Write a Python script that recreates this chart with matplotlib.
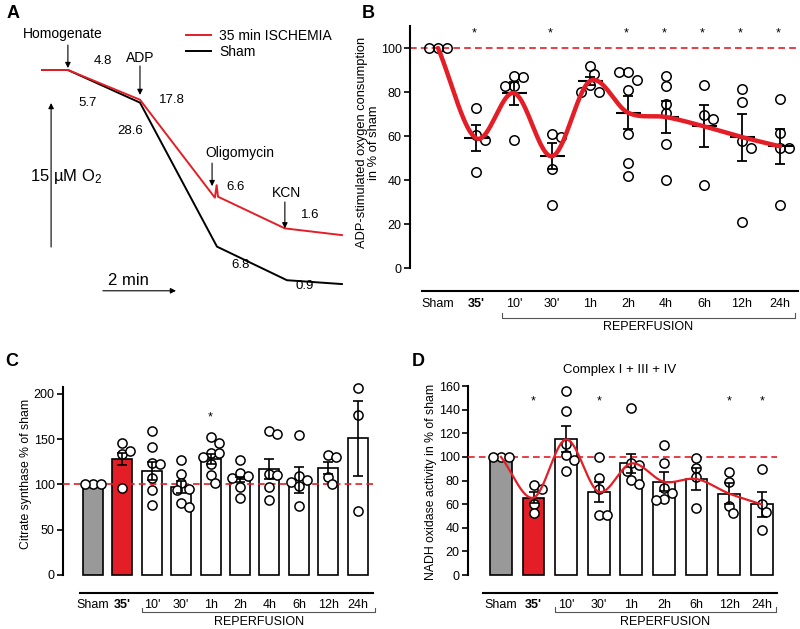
import numpy as np
import matplotlib
matplotlib.use('Agg')
import matplotlib.pyplot as plt

plt.rcParams['font.family'] = ['Liberation Sans', 'DejaVu Sans']
plt.rcParams['mathtext.fontset'] = 'custom'
plt.rcParams['mathtext.rm'] = 'Liberation Sans'
plt.rcParams['mathtext.it'] = 'Liberation Sans:italic'

RED = '#e41e26'

# ---- panel A: oxygen traces (time in min, O2 change in uM)
sham_t = [0, 0.74, 2.8, 5.0, 7.0, 8.57]
sham_o2 = [0, 0, -3.4, -18.4, -21.9, -22.3]
isch_t = [0, 0.74, 2.8, 4.94, 4.99, 5.03, 6.94, 8.57]
isch_o2 = [0, 0, -3.1, -13.3, -12.0, -13.2, -16.5, -17.2]

# ---- panel B: ADP-stimulated O2 consumption
b_labels = ['Sham', "35'", "10'", "30'", '1h', '2h', '4h', '6h', '12h', '24h']
b_mean = [100, 59, 79.5, 50.8, 85, 70.6, 68.6, 64.4, 59.5, 55.3]
b_sem = [0, 6, 5.2, 6, 2, 7.5, 7.2, 9.5, 10.7, 8]
b_points = [[100, 100, 100],
            [72.7, 60.6, 58.3, 43.6],
            [87.4, 86.7, 82.9, 82.9, 58.3],
            [61, 59.5, 45, 28.5],
            [92, 88, 83, 80, 80],
            [89, 85.6, 89, 80.8, 61, 47.7, 42],
            [87.4, 82.6, 74.7, 70.5, 56.5, 39.8],
            [83, 69.7, 67.7, 37.6],
            [81.4, 75.5, 57.7, 54.5, 21],
            [77, 61.4, 54.4, 54.4, 28.5]]
b_stars = [1, 3, 5, 6, 7, 8, 9]

# ---- panel C: citrate synthase
c_labels = ['Sham', "35'", "10'", "30'", '1h', '2h', '4h', '6h', '12h', '24h']
c_mean = [100, 127.8, 115.3, 97.6, 128.5, 105.7, 116.8, 105, 117.9, 151]
c_sem = [0, 6.5, 10, 6.5, 5.5, 3, 11, 14, 6.5, 41.5]
c_points = [[100, 100, 100],
            [146, 134, 137, 96],
            [159, 141, 124, 122.6, 107, 94, 77],
            [127, 112, 102, 94.7, 94, 79, 75.5],
            [152, 146, 135, 134.4, 130.8, 122.7, 110.5, 102],
            [127, 113, 109.8, 107, 97, 84.7],
            [159, 155.8, 111.6, 111, 97.6, 82.9],
            [154.7, 109.4, 105, 103, 98.3, 76.6],
            [132.6, 130.8, 108.7, 100.2],
            [207, 176.8, 71]]
c_stars = [4]

# ---- panel D: NADH oxidase (complex I + III + IV)
d_labels = ['Sham', "35'", "10'", "30'", '1h', '2h', '6h', '12h', '24h']
d_mean = [100, 65.5, 114.8, 70.5, 94.5, 79, 81.3, 69, 59.8]
d_sem = [0, 4.5, 11, 8.5, 7.8, 8, 9.2, 8.5, 10.5]
d_points = [[100, 100, 100],
            [76.2, 72.8, 60, 52.2],
            [155.8, 138.8, 110.9, 101.3, 97.3, 88],
            [99.6, 82.4, 72.8, 50.8, 50.8],
            [141, 94.5, 93, 88.3, 80.4, 76.7],
            [110, 94.5, 73.4, 69.7, 64, 63.5],
            [98.8, 90.9, 83.2, 56.4],
            [87.5, 79, 58.7, 52.2],
            [89.4, 60, 53.6, 38]]
d_stars = [1, 3, 7, 8]


def smooth(xs, ys, n=40):
    # Catmull-Rom curve through the means
    x = np.asarray(xs, float)
    y = np.asarray(ys, float)
    xp = np.concatenate([[2 * x[0] - x[1]], x, [2 * x[-1] - x[-2]]])
    yp = np.concatenate([[2 * y[0] - y[1]], y, [2 * y[-1] - y[-2]]])
    t = np.linspace(0, 1, n, endpoint=False)
    ox, oy = [], []
    for i in range(1, len(x)):
        for p, out in ((xp, ox), (yp, oy)):
            p0, p1, p2, p3 = p[i - 1], p[i], p[i + 1], p[i + 2]
            out.extend(0.5 * (2 * p1 + (-p0 + p2) * t + (2 * p0 - 5 * p1 + 4 * p2 - p3) * t ** 2
                              + (-p0 + 3 * p1 - 3 * p2 + p3) * t ** 3))
    ox.append(x[-1])
    oy.append(y[-1])
    return np.array(ox), np.array(oy)


def swarm(vals, sx, sy, gap):
    # simple beeswarm offsets, sx/sy = pixels per data unit
    step = gap / sx / 2
    placed, offs = [], []
    for v in vals:
        found = None
        for k in range(30):
            for c in ([0] if k == 0 else [k, -k]):
                dx = c * step
                if all(((dx - px) * sx) ** 2 + ((v - py) * sy) ** 2 >= gap ** 2 for px, py in placed):
                    found = dx
                    break
            if found is not None:
                break
        placed.append((found, v))
        offs.append(found)
    return np.array(offs)


def bracket(ax, x0, x1, y, ty, tick=0.017):
    tr = ax.get_xaxis_transform()
    ax.plot([x0, x0, x1, x1], [y + tick, y, y, y + tick], transform=tr, clip_on=False,
            color='#555555', lw=0.8)
    ax.text((x0 + x1) / 2, ty, 'REPERFUSION', transform=tr, ha='center', va='center', fontsize=9)


def style_axis(ax, ybound, xbound, labels, ticks, pad):
    for s in ['top', 'right']:
        ax.spines[s].set_visible(False)
    ax.spines['left'].set_bounds(*ybound)
    ax.spines['bottom'].set_bounds(*xbound)
    ax.spines['left'].set_linewidth(1.5)
    ax.spines['bottom'].set_linewidth(1.5)
    ax.set_yticks(ticks)
    ax.tick_params(axis='y', direction='out', length=4, width=1.2, labelsize=9, pad=2)
    ax.set_xticks(range(len(labels)))
    ax.set_xticklabels(labels)
    ax.tick_params(axis='x', length=0, labelsize=9, pad=pad)
    ax.get_xticklabels()[1].set_fontweight('bold')


fig = plt.figure(figsize=(8, 6.29), dpi=100)

# ================= A
axA = fig.add_axes([0, 1 - 300 / 629, 0.5, 300 / 629])
axA.set_xlim(-1.2, 10.23)
axA.set_ylim(-23.96, 7.29)
axA.axis('off')
axA.plot(isch_t, isch_o2, color=RED, lw=1.4, label='35 min ISCHEMIA', zorder=3)
axA.plot(sham_t, sham_o2, color='black', lw=1.4, label='Sham', zorder=2)
axA.legend(loc='upper left', bbox_to_anchor=(0.465, 0.905), frameon=False, fontsize=10,
           handlelength=1.8, handletextpad=0.6, labelspacing=0.2, borderpad=0, borderaxespad=0)

arrow = dict(arrowstyle='-|>', color='black', lw=0.8, mutation_scale=8, shrinkA=0, shrinkB=0)
for x, y0, y1 in [(0.74, 2.6, 0.2), (2.8, 0.42, -2.6), (4.86, -9.7, -12.1), (6.94, -13.75, -16.5)]:
    axA.annotate('', xy=(x, y1), xytext=(x, y0), arrowprops=arrow)
axA.annotate('', xy=(0.26, -3.44), xytext=(0.26, -18.44), arrowprops=arrow)
axA.annotate('', xy=(3.83, -23.0), xytext=(1.74, -23.0), arrowprops=arrow)

fs = 10
axA.text(0.6, 3.75, 'Homogenate', ha='center', va='center', fontsize=fs)
axA.text(2.8, 1.25, 'ADP', ha='center', va='center', fontsize=fs)
axA.text(5.66, -8.65, 'Oligomycin', ha='center', va='center', fontsize=fs)
axA.text(7.0, -12.8, 'KCN', ha='center', va='center', fontsize=fs)
for x, y, s in [(1.74, 0.94, '4.8'), (1.29, -3.44, '5.7'), (3.71, -3.1, '17.8'), (2.51, -6.35, '28.6'),
                (5.54, -12.2, '6.6'), (7.66, -15.1, '1.6'), (5.66, -20.3, '6.8'), (7.51, -22.5, '0.9')]:
    axA.text(x, y, s, ha='center', va='center', fontsize=9.5)
axA.text(0.69, -11.1, '15 µM O$_2$', ha='center', va='center', fontsize=12)
axA.text(2.46, -21.9, '2 min', ha='center', va='center', fontsize=12)

# ================= B
axB = fig.add_axes([410 / 800, 1 - 291 / 629, 388 / 800, 269.4 / 629])
axB.set_xlim(-0.737, 9.474)
axB.set_ylim(-10.45, 112)
style_axis(axB, (0, 110), (-0.42, 9.474), b_labels, range(0, 101, 20), 5)
axB.axhline(100, color=RED, ls=(0, (4, 2.5)), lw=1.2, zorder=1)
for i, pts in enumerate(b_points):
    offs = swarm(pts, 38, 2.2, 9)
    axB.plot(i + offs, pts, 'o', mfc='none', mec='black', ms=6.8, mew=1.1, zorder=3)
xb = np.arange(len(b_mean))
axB.errorbar(xb[1:], b_mean[1:], yerr=b_sem[1:], fmt='none', ecolor='black', elinewidth=1.3,
             capsize=3.5, capthick=1.3, zorder=4)
axB.plot(xb[1:], b_mean[1:], ls='none', marker='_', ms=18, mew=1.5, color='black', zorder=4)
cx, cy = smooth(xb, b_mean)
axB.plot(cx, cy, color=RED, lw=3.2, zorder=5, solid_capstyle='round')
for i in b_stars:
    axB.text(i - 0.05, 106.5, '*', ha='center', va='center', fontsize=9)
axB.set_ylabel('ADP-stimulated oxygen consumption\nin % of sham', fontsize=9.3, linespacing=1.05)
axB.yaxis.set_label_coords(-0.077, 0.55)
bracket(axB, 1.68, 9.39, -0.1, -0.135)

# ================= C
axC = fig.add_axes([63 / 800, 1 - 593 / 629, 310 / 800, 212.6 / 629])
axC.set_xlim(-1.02, 9.52)
axC.set_ylim(-19.9, 215)
style_axis(axC, (0, 208), (-0.44, 9.52), c_labels, range(0, 201, 50), 4)
xc = np.arange(len(c_mean))
axC.bar(xc, c_mean, width=0.68, color=['#999999', RED] + ['white'] * 8, edgecolor='black',
        lw=1.2, zorder=2)
axC.axhline(100, color=RED, ls=(0, (4, 2.5)), lw=1.2, zorder=3)
for i, pts in enumerate(c_points):
    offs = swarm(pts, 29.4, 0.905, 8)
    axC.plot(i + offs, pts, 'o', mfc='white', mec='black', ms=6.6, mew=1.1, zorder=4)
axC.errorbar(xc[1:], c_mean[1:], yerr=c_sem[1:], fmt='none', ecolor='black', elinewidth=1.2,
             capsize=3.5, capthick=1.2, zorder=5)
for i in c_stars:
    axC.text(i, 174, '*', ha='center', va='center', fontsize=9)
axC.set_ylabel('Citrate synthase % of sham', fontsize=8.8)
axC.yaxis.set_label_coords(-0.1, 0.56)
bracket(axC, 1.67, 9.59, -0.088, -0.136, 0.019)

# ================= D
axD = fig.add_axes([468 / 800, 1 - 593 / 629, 309 / 800, 213 / 629])
axD.set_xlim(-1.01, 8.47)
axD.set_ylim(-15.2, 165.1)
style_axis(axD, (0, 160), (-0.55, 8.47), d_labels, range(0, 161, 20), 4)
xd = np.arange(len(d_mean))
axD.bar(xd, d_mean, width=0.67, color=['#999999', RED] + ['white'] * 7, edgecolor='black',
        lw=1.2, zorder=2)
axD.axhline(100, color=RED, ls=(0, (4, 2.5)), lw=1.2, zorder=3)
for i, pts in enumerate(d_points):
    offs = swarm(pts, 32.6, 1.181, 8)
    axD.plot(i + offs, pts, 'o', mfc='white', mec='black', ms=6.6, mew=1.1, zorder=4)
axD.errorbar(xd[1:], d_mean[1:], yerr=d_sem[1:], fmt='none', ecolor='black', elinewidth=1.2,
             capsize=3.5, capthick=1.2, zorder=5)
dx, dy = smooth(xd, d_mean)
axD.plot(dx, dy, color=RED, lw=1.6, zorder=6)
for i in d_stars:
    axD.text(i, 147, '*', ha='center', va='center', fontsize=9)
axD.set_ylabel('NADH oxidase activity in % of sham', fontsize=8.8)
axD.yaxis.set_label_coords(-0.1, 0.52)
axD.text(0.49, 1.047, 'Complex I + III + IV', transform=axD.transAxes, ha='center', va='center',
         fontsize=9.5)
bracket(axD, 1.66, 8.44, -0.087, -0.135, 0.019)

# panel letters
for x, y, s in [(13, 13, 'A'), (368, 13, 'B'), (12, 362, 'C'), (418, 362, 'D')]:
    fig.text(x / 800, 1 - y / 629, s, ha='center', va='center', fontsize=13, fontweight='bold')

fig.savefig('out.png', dpi=100)
